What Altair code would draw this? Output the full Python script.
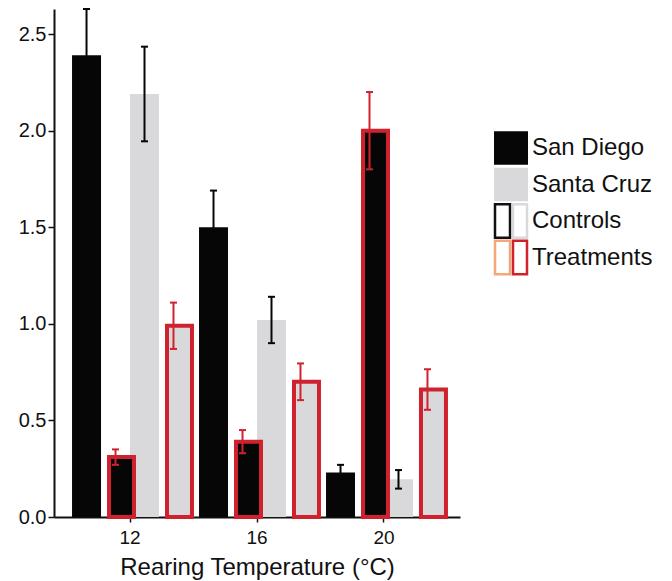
import altair as alt
import pandas as pd

# ---- data ----
temps = ["12", "16", "20"]
groups = ["San Diego Control", "San Diego Treatment", "Santa Cruz Control", "Santa Cruz Treatment"]
sites = ["San Diego", "San Diego", "Santa Cruz", "Santa Cruz"]
conds = ["Control", "Treatment", "Control", "Treatment"]

sd_control = [2.39, 1.50, 0.23]
sd_treatment = [0.31, 0.39, 2.00]
sc_control = [2.19, 1.02, 0.195]
sc_treatment = [0.99, 0.70, 0.66]

sd_control_err = [0.24, 0.19, 0.04]
sd_treatment_err = [0.04, 0.06, 0.20]
sc_control_err = [0.245, 0.12, 0.048]
sc_treatment_err = [0.12, 0.095, 0.105]

y_ticks = [0.0, 0.5, 1.0, 1.5, 2.0, 2.5]

legend_labels = ["San Diego", "Santa Cruz", "Controls", "Treatments"]

BLACK = "#060606"
GRAY = "#d9d9dc"
RED = "#d0222e"
ORANGE = "#f2a877"
FONT = "Liberation Sans"

means = [sd_control, sd_treatment, sc_control, sc_treatment]
errs = [sd_control_err, sd_treatment_err, sc_control_err, sc_treatment_err]

rows = []
for g, s, c, ms, es in zip(groups, sites, conds, means, errs):
    for t, m, e in zip(temps, ms, es):
        rows.append(dict(temp=t, grp=g, site=s, cond=c, mean=m, lo=m - e, hi=m + e))
df = pd.DataFrame(rows)

x = alt.X(
    "temp:N",
    sort=temps,
    title="Rearing Temperature (°C)",
    scale=alt.Scale(paddingInner=0.087, paddingOuter=0.142),
    axis=alt.Axis(
        labelAngle=0, labelFontSize=19, labelColor="#111", labelFont=FONT,
        titleFontSize=24, titleFontWeight="normal", titleColor="#111", titleFont=FONT,
        titlePadding=8, tickSize=5, tickColor="#111", tickWidth=1.5,
        domainColor="#111", domainWidth=2, labelPadding=6,
    ),
)
xo = alt.XOffset("grp:N", sort=groups, scale=alt.Scale(paddingInner=0, paddingOuter=0))
yscale = alt.Scale(domain=[0, 2.63], nice=False, zero=True)
y = alt.Y(
    "mean:Q",
    scale=yscale,
    title=None,
    axis=alt.Axis(
        values=y_ticks, format=".1f", grid=False, labelFontSize=20, labelColor="#111",
        labelFont=FONT, tickSize=6, tickColor="#111", tickWidth=1.5,
        domainColor="#111", domainWidth=2, labelPadding=2,
    ),
)
fill = alt.Fill("site:N", scale=alt.Scale(domain=["San Diego", "Santa Cruz"], range=[BLACK, GRAY]), legend=None)
ecolor = alt.Color("cond:N", scale=alt.Scale(domain=["Control", "Treatment"], range=[BLACK, RED]), legend=None)

base = alt.Chart(df)
ctrl = base.transform_filter("datum.cond == 'Control'").mark_bar().encode(x=x, xOffset=xo, y=y, fill=fill)
treat = base.transform_filter("datum.cond == 'Treatment'").mark_bar(
    width=alt.RelativeBandSize(0.862), stroke=RED, strokeWidth=4
).encode(x=x, xOffset=xo, y=y, fill=fill)
rule = base.mark_rule(strokeWidth=2).encode(
    x=x, xOffset=xo, y=alt.Y("lo:Q", scale=yscale, title=None), y2="hi:Q", color=ecolor
)
cap_hi = base.mark_tick(orient="horizontal", size=7, thickness=2, opacity=1).encode(
    x=x, xOffset=xo, y=alt.Y("hi:Q", scale=yscale, title=None), color=ecolor
)
cap_lo = base.mark_tick(orient="horizontal", size=7, thickness=2, opacity=1).encode(
    x=x, xOffset=xo, y=alt.Y("lo:Q", scale=yscale, title=None), color=ecolor
)

noview = alt.ViewBackground(strokeWidth=0, stroke="transparent")

main = alt.layer(ctrl, treat, rule, cap_hi, cap_lo).properties(width=406, height=508, view=noview)

# ---- custom legend (rows placed by their order in legend_labels) ----
leg_full = pd.DataFrame({"label": legend_labels[:2], "c": [BLACK, GRAY]})
leg_left = pd.DataFrame({"label": legend_labels[2:], "c": ["#111111", ORANGE]})
leg_right = pd.DataFrame({"label": legend_labels[2:], "c": [GRAY, RED]})
leg_text = pd.DataFrame({"label": legend_labels})

order_expr = "indexof(" + str(legend_labels).replace("'", '"') + ", datum.label)"
lscale = alt.Scale(domain=[10.11, -3.81], nice=False, zero=False)


def swatch(data, **kw):
    return (
        alt.Chart(data)
        .transform_calculate(row=order_expr)
        .transform_calculate(r0="datum.row - 0.46", r1="datum.row + 0.46")
        .mark_rect(**kw)
    )


l_full = swatch(leg_full).encode(
    y=alt.Y("r0:Q", scale=lscale, axis=None), y2="r1:Q",
    x=alt.value(0), x2=alt.value(34), fill=alt.Fill("c:N", scale=None),
)
l_left = swatch(leg_left, fill="white", strokeWidth=2.5).encode(
    y=alt.Y("r0:Q", scale=lscale, axis=None), y2="r1:Q",
    x=alt.value(1), x2=alt.value(16), stroke=alt.Stroke("c:N", scale=None),
)
l_right = swatch(leg_right, fill="white", strokeWidth=2.5).encode(
    y=alt.Y("r0:Q", scale=lscale, axis=None), y2="r1:Q",
    x=alt.value(19), x2=alt.value(33), stroke=alt.Stroke("c:N", scale=None),
)
l_text = (
    alt.Chart(leg_text)
    .transform_calculate(row=order_expr)
    .mark_text(align="left", baseline="middle", fontSize=24, font=FONT, color="#111")
    .encode(y=alt.Y("row:Q", scale=lscale, axis=None), x=alt.value(38), text="label:N")
)

legend = alt.layer(l_full, l_left, l_right, l_text).properties(width=130, height=508, view=noview)

chart = (
    alt.hconcat(main, legend, spacing=33)
    .properties(padding={"left": 10, "top": 0, "right": 5, "bottom": 5})
    .configure_view(strokeWidth=0)
    .configure(font=FONT)
)

chart.save("out.html", embed_options={"renderer": "svg", "actions": False})
